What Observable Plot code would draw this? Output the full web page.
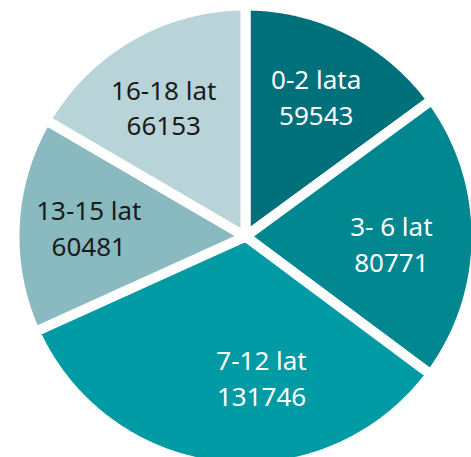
<!DOCTYPE html>
<html>
<head>
<meta charset="utf-8">
<script src="https://cdn.jsdelivr.net/npm/d3@7"></script>
<script src="https://cdn.jsdelivr.net/npm/@observablehq/plot@0.6"></script>
<style>
  html, body { margin: 0; padding: 0; background: #ffffff; }
</style>
</head>
<body>
<div id="chart"></div>
<script>
// ---- data ----
const categories = ["0-2 lata", "3- 6 lat", "7-12 lat", "13-15 lat", "16-18 lat"];
const values = [59543, 80771, 131746, 60481, 66153];
const sliceColors = ["#00707a", "#00878f", "#009ba5", "#89babf", "#b9d4d8"];
const labelTextColors = ["#ffffff", "#ffffff", "#ffffff", "#1a1a1a", "#1a1a1a"];

// ---- layout constants ----
const W = 471, H = 457;
const cx = 245, cy = 236;
const gap = 10;
const R = 226 + gap / 2;               // polygon radius (stroke eats half the gap)
// label placement: [angle nudge in degrees, radius in px]
const labelLayout = [[-0.3, 158], [2.2, 146], [-12.7, 141], [0.6, 157], [-2.2, 154]];

// ---- slices from the data ----
const total = d3.sum(values);
let acc = 0;
const slices = categories.map((c, i) => {
  const a0 = acc / total * 2 * Math.PI;
  acc += values[i];
  const a1 = acc / total * 2 * Math.PI;
  return {c, i, v: values[i], a0, a1};
});

const pts = slices.flatMap(s => {
  const n = Math.ceil((s.a1 - s.a0) / (Math.PI / 360));
  const arr = [{c: s.c, x: 0, y: 0}];
  for (let k = 0; k <= n; k++) {
    const a = s.a0 + (s.a1 - s.a0) * k / n;
    arr.push({c: s.c, x: Math.sin(a), y: Math.cos(a)});
  }
  arr.push({c: s.c, x: 0, y: 0});
  return arr;
});

const labels = slices.map(s => {
  const [da, r] = labelLayout[s.i];
  const a = (s.a0 + s.a1) / 2 + da * Math.PI / 180;
  return {
    text: `${s.c}\n${s.v}`,
    x: Math.sin(a) * r / R,
    y: Math.cos(a) * r / R,
    color: labelTextColors[s.i]
  };
});

const chart = Plot.plot({
  width: W,
  height: H,
  margin: 0,
  x: {domain: [-1, 1], range: [cx - R, cx + R], axis: null},
  y: {domain: [-1, 1], range: [cy + R, cy - R], axis: null},
  color: {domain: categories, range: sliceColors},
  style: {background: "#ffffff"},
  marks: [
    Plot.line(pts, {
      x: "x", y: "y", z: "c", fill: "c",
      stroke: "#ffffff", strokeWidth: gap, strokeLinejoin: "round"
    }),
    Plot.text(labels.filter(d => d.color === "#ffffff"), {
      x: "x", y: "y", text: "text", fill: "#ffffff",
      fontSize: 26, lineHeight: 1.38, fontFamily: "Noto Sans"
    }),
    Plot.text(labels.filter(d => d.color !== "#ffffff"), {
      x: "x", y: "y", text: "text", fill: "#1a1a1a",
      fontSize: 26, lineHeight: 1.38, fontFamily: "Noto Sans"
    })
  ]
});
document.getElementById("chart").appendChild(chart);
</script>
</body>
</html>
